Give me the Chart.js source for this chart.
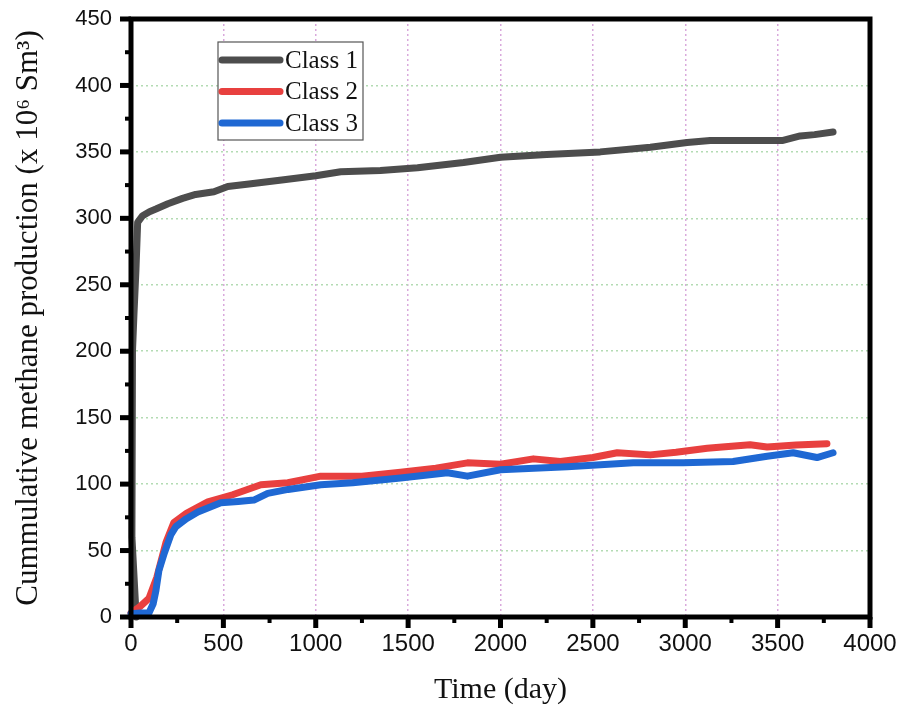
<!DOCTYPE html>
<html>
<head>
<meta charset="utf-8">
<script src="https://cdn.jsdelivr.net/npm/chart.js@4.4.1/dist/chart.umd.min.js"></script>
<style>
  html, body { margin: 0; padding: 0; background: #ffffff; }
  #wrap { width: 904px; height: 713px; }
</style>
</head>
<body>
<div id="wrap"><canvas id="c" width="904" height="713"></canvas></div>
<script>
// ---- data ----
const seriesLabels = ["Class 1", "Class 2", "Class 3"];

const class1Days = [28, 5, 8, 16, 27, 36, 63, 100, 135, 200, 279, 350, 449, 524, 650, 827, 1000, 1135, 1350, 1551, 1800, 2000, 2250, 2540, 2811, 3010, 3135, 3300, 3524, 3622, 3700, 3800];
const class1Prod = [0, 60, 200, 228, 262, 297, 302, 305, 307, 311, 315, 318, 320, 324, 326, 329, 332, 335, 336, 338, 342, 346, 348, 350, 353.5, 357, 358.5, 358.5, 358.5, 362, 363, 365];

const class2Days = [0, 50, 97, 140, 189, 232, 300, 416, 550, 703, 849, 1027, 1250, 1459, 1650, 1821, 2000, 2178, 2324, 2500, 2632, 2811, 2950, 3119, 3200, 3351, 3443, 3600, 3767];
const class2Prod = [3, 8, 14, 30, 56, 71, 78, 86.7, 92, 99.5, 101, 106, 106, 109, 112, 116, 115, 119, 117, 120, 123.6, 122, 124, 127, 128, 129.6, 128, 129.5, 130.4];

const class3Days = [0, 50, 97, 120, 135, 151, 180, 216, 243, 300, 362, 486, 580, 665, 740, 850, 1027, 1200, 1459, 1713, 1821, 2000, 2362, 2719, 2989, 3259, 3443, 3584, 3713, 3800];
const class3Prod = [2.5, 3, 3, 10, 20, 35, 48, 62, 68, 74, 79, 86, 87, 88, 93, 96, 99.5, 101, 104.6, 108.5, 106, 110.8, 113, 116, 116, 117, 121, 123.6, 120, 123.6];

const xTickValues = [0, 500, 1000, 1500, 2000, 2500, 3000, 3500, 4000];
const yTickValues = [0, 50, 100, 150, 200, 250, 300, 350, 400, 450];

const xTitle = "Time (day)";
const yTitle = "Cummulative methane production (x 10\u2076 Sm\u00B3)";

// ---- build datasets ----
function pts(xs, ys) { return xs.map((x, i) => ({ x: x, y: ys[i] })); }
const colors = ["#4d4d4d", "#e8403f", "#1f68d3"];
const seriesData = [pts(class1Days, class1Prod), pts(class2Days, class2Prod), pts(class3Days, class3Prod)];

const datasets = seriesData.map((d, i) => ({
  label: seriesLabels[i],
  data: d,
  showLine: true,
  borderColor: colors[i],
  backgroundColor: colors[i],
  borderWidth: 7,
  pointRadius: 0,
  tension: 0,
  borderJoinStyle: "round",
  borderCapStyle: "round",
  clip: 8,
  order: 3 - i
}));

// frame, ticks and legend
const framePlugin = {
  id: "frame",
  afterDraw(chart) {
    const ctx = chart.ctx;
    const { left, right, top, bottom } = chart.chartArea;
    const xs = chart.scales.x, ys = chart.scales.y;
    ctx.save();
    ctx.fillStyle = "#000";
    for (let i = 0; i < yTickValues.length; i++) {
      const v = yTickValues[i];
      const p = ys.getPixelForValue(v);
      ctx.fillRect(left - 11, p - 2.5, 11, 5);
      if (i < yTickValues.length - 1) {
        const pm = ys.getPixelForValue((v + yTickValues[i + 1]) / 2);
        ctx.fillRect(left - 6, pm - 2, 6, 4);
      }
    }
    for (let i = 0; i < xTickValues.length; i++) {
      const v = xTickValues[i];
      const p = xs.getPixelForValue(v);
      ctx.fillRect(p - 2.5, bottom, 5, 11);
      if (i < xTickValues.length - 1) {
        const pm = xs.getPixelForValue((v + xTickValues[i + 1]) / 2);
        ctx.fillRect(pm - 2, bottom, 4, 6);
      }
    }
    ctx.strokeStyle = "#000";
    ctx.lineWidth = 5;
    ctx.strokeRect(left, top, right - left, bottom - top);

    // legend box
    const lx = 218, ly = 42, lw = 145, lh = 98;
    ctx.fillStyle = "#ffffff";
    ctx.fillRect(lx, ly, lw, lh);
    ctx.strokeStyle = "#555555";
    ctx.lineWidth = 1.2;
    ctx.strokeRect(lx, ly, lw, lh);
    ctx.font = "25px 'Liberation Serif', 'Times New Roman', serif";
    ctx.textBaseline = "middle";
    ctx.textAlign = "left";
    chart.data.datasets.forEach((ds, i) => {
      const y = 60 + i * 31.5;
      ctx.strokeStyle = ds.borderColor;
      ctx.lineWidth = 7;
      ctx.lineCap = "round";
      ctx.beginPath();
      ctx.moveTo(222, y);
      ctx.lineTo(280, y);
      ctx.stroke();
      ctx.fillStyle = "#111";
      ctx.fillText(ds.label, 285, y + 1);
    });
    ctx.restore();
  }
};

new Chart(document.getElementById("c"), {
  type: "scatter",
  data: { datasets: datasets },
  options: {
    responsive: false,
    animation: false,
    devicePixelRatio: 1,
    layout: { padding: { top: 19, right: 34, left: 0, bottom: 0 } },
    plugins: { legend: { display: false }, tooltip: { enabled: false } },
    scales: {
      x: {
        type: "linear",
        min: 0, max: 4000,
        afterFit(s) { s.height = 96; s.paddingLeft = 0; s.paddingRight = 0; },
        afterBuildTicks(s) { s.ticks = xTickValues.map(v => ({ value: v })); },
        ticks: {
          padding: 13,
          color: "#111",
          maxRotation: 0,
          autoSkip: false,
          callback: (v) => String(v),
          font: { family: "'Liberation Sans', Arial, sans-serif", size: 24 }
        },
        grid: { color: "#d9a9dc", lineWidth: 1.5, drawTicks: false },
        border: { display: false, dash: [2, 3] },
        title: {
          display: true, text: xTitle, color: "#111",
          font: { family: "'Liberation Serif', 'Times New Roman', serif", size: 30 },
          padding: { top: 0, bottom: 5 }
        }
      },
      y: {
        type: "linear",
        min: 0, max: 450,
        afterFit(s) { s.width = 131; s.paddingTop = 0; s.paddingBottom = 0; },
        afterBuildTicks(s) { s.ticks = yTickValues.map(v => ({ value: v })); },
        ticks: {
          padding: 19,
          color: "#111",
          autoSkip: false,
          callback: (v) => String(v),
          font: { family: "'Liberation Sans', Arial, sans-serif", size: 22 }
        },
        grid: { color: "#b3dbb3", lineWidth: 1.5, drawTicks: false },
        border: { display: false, dash: [2, 3] },
        title: {
          display: true, text: yTitle, color: "#111",
          font: { family: "'Liberation Serif', 'Times New Roman', serif", size: 31 },
          padding: { top: 10, bottom: 0 }
        }
      }
    }
  },
  plugins: [framePlugin]
});
</script>
</body>
</html>
